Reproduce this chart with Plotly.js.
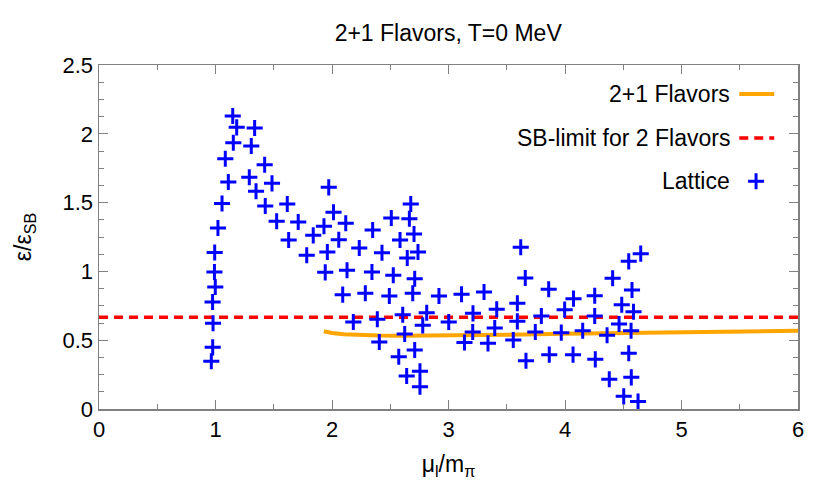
<!DOCTYPE html>
<html>
<head>
<meta charset="utf-8">
<script src="https://cdn.plot.ly/plotly-3.0.1.min.js"></script>
<style>
  body { margin: 0; background: #fff; }
  #myPlot { width: 830px; height: 498px; }
</style>
</head>
<body>
<div id="myPlot"></div>
<script>
// 2+1 flavors model curve
const flavX = [1.93, 2.0, 2.1, 2.2, 2.4, 2.6, 2.8, 3.0, 3.5, 4.0, 4.5, 5.0, 5.5, 6.0];
const flavY = [0.565, 0.552, 0.543, 0.538, 0.534, 0.533, 0.533, 0.535, 0.540, 0.546, 0.552, 0.558, 0.563, 0.568];

// Stefan-Boltzmann limit
const sbX = [0, 6];
const sbY = [0.667, 0.667];

// lattice points
const latX = [0.964, 0.976, 0.979, 0.975, 0.998, 0.991, 0.993, 1.021, 1.056, 1.084,
  1.110, 1.148, 1.182, 1.153, 1.336, 1.307, 1.290, 1.422, 1.348, 1.485,
  1.427, 1.616, 1.525, 1.710, 1.628, 1.783, 1.972, 2.013, 2.118, 1.931,
  1.839, 2.058, 1.960, 1.942, 2.129, 2.092, 2.286, 2.183, 2.349, 2.234,
  2.429, 2.343, 2.526, 2.492, 2.389, 2.406, 2.509, 2.584, 2.676, 2.664,
  2.704, 2.646, 2.738, 2.710, 2.693, 2.607, 2.624, 2.710, 2.573, 2.641,
  2.755, 2.755, 2.813, 2.779, 2.918, 3.002, 3.112, 3.137, 3.210, 3.208,
  3.305, 3.339, 3.414, 3.397, 3.620, 3.659, 3.591, 3.591, 3.556, 3.665,
  3.860, 3.797, 3.745, 3.865, 4.073, 3.997, 3.968, 4.069, 4.255, 4.255,
  4.152, 4.260, 4.409, 4.487, 4.464, 4.361, 4.380, 4.547, 4.650, 4.575,
  4.588, 4.567, 4.547, 4.569, 4.504, 4.627];
const latY = [0.347, 0.448, 0.623, 0.778, 0.887, 0.996, 1.137, 1.315, 1.493, 1.819,
  1.650, 2.129, 2.047, 1.935, 2.042, 1.911, 1.684, 1.775, 1.582, 1.640,
  1.475, 1.490, 1.364, 1.359, 1.228, 1.117, 1.611, 1.430, 1.350, 1.328,
  1.262, 1.230, 1.141, 0.993, 1.008, 0.831, 0.841, 0.632, 1.301, 1.170,
  1.136, 0.996, 0.972, 0.821, 0.652, 0.487, 1.388, 1.228, 1.490, 1.383,
  1.272, 1.097, 1.141, 0.947, 0.841, 0.685, 0.545, 0.429, 0.380, 0.240,
  0.274, 0.162, 0.700, 0.608, 0.821, 0.632, 0.834, 0.483, 0.695, 0.560,
  0.850, 0.477, 0.725, 0.589, 1.175, 0.952, 0.768, 0.637, 0.501, 0.351,
  0.870, 0.676, 0.560, 0.395, 0.802, 0.722, 0.555, 0.395, 0.823, 0.676,
  0.569, 0.361, 0.950, 0.758, 0.618, 0.536, 0.216, 1.073, 1.129, 0.865,
  0.707, 0.569, 0.405, 0.230, 0.092, 0.055];

const legendNames = ['2+1 Flavors', 'SB-limit for 2 Flavors', 'Lattice'];

const fontFam = 'Liberation Sans, Arial, sans-serif';

const traceFlav = {
  x: flavX, y: flavY,
  type: 'scatter', mode: 'lines',
  line: { color: '#ffa500', width: 4 },
  name: legendNames[0]
};

const traceSB = {
  x: sbX, y: sbY,
  type: 'scatter', mode: 'lines',
  line: { color: '#ff0000', width: 3.5, dash: '9px,6px' },
  name: legendNames[1]
};

const traceLat = {
  x: latX, y: latY,
  type: 'scatter', mode: 'markers',
  marker: { symbol: 'cross-thin', size: 11.5, color: '#0000ff', line: { color: '#0000ff', width: 3 } },
  name: legendNames[2]
};

// hand-made key: text on the left, sample on the right
const keyY = [0.916, 0.788, 0.662];
const keyTextX = 0.905;
const keyX0 = 0.916, keyX1 = 0.966, keyCx = 0.94;

const annotations = legendNames.map((t, i) => ({
  text: t, xref: 'paper', yref: 'paper', x: keyTextX, y: keyY[i],
  xanchor: 'right', yanchor: 'middle', showarrow: false,
  font: { family: fontFam, size: 23, color: '#000' }
}));

const cw = 8 / 699, ch = 8 / 344;
const shapes = [
  { type: 'line', xref: 'paper', yref: 'paper', x0: keyX0, x1: keyX1, y0: keyY[0], y1: keyY[0],
    line: { color: '#ffa500', width: 4 } },
  { type: 'line', xref: 'paper', yref: 'paper', x0: keyX0, x1: keyX1, y0: keyY[1], y1: keyY[1],
    line: { color: '#ff0000', width: 3.5, dash: '9px,6px' } },
  { type: 'line', xref: 'paper', yref: 'paper', x0: keyCx - cw, x1: keyCx + cw, y0: keyY[2], y1: keyY[2],
    line: { color: '#0000ff', width: 3 } },
  { type: 'line', xref: 'paper', yref: 'paper', x0: keyCx, x1: keyCx, y0: keyY[2] - ch, y1: keyY[2] + ch,
    line: { color: '#0000ff', width: 3 } }
];

const layout = {
  width: 830,
  height: 498,
  margin: { l: 99, r: 32, t: 65, b: 89 },
  paper_bgcolor: '#fff',
  plot_bgcolor: '#fff',
  showlegend: false,
  font: { family: fontFam, size: 22, color: '#000' },
  title: {
    text: '2+1 Flavors, T=0 MeV',
    x: 0.54, xanchor: 'center',
    y: 0.934, yanchor: 'middle',
    font: { family: fontFam, size: 23, color: '#000' }
  },
  xaxis: {
    range: [0, 6],
    dtick: 1,
    showgrid: false, zeroline: false,
    showline: true, linecolor: '#808080', linewidth: 1.5, mirror: 'allticks',
    ticks: 'inside', ticklen: 9, tickcolor: '#808080', tickwidth: 1,
    minor: { dtick: 0.5, ticks: 'inside', ticklen: 5, tickcolor: '#808080' },
    tickfont: { family: fontFam, size: 22, color: '#000' },
    title: { text: 'μ<sub>l</sub>/m<sub>π</sub>', standoff: 15,
      font: { family: fontFam, size: 23, color: '#000' } }
  },
  yaxis: {
    range: [0, 2.5],
    dtick: 0.5,
    showgrid: false, zeroline: false,
    showline: true, linecolor: '#808080', linewidth: 1.5, mirror: 'allticks',
    ticks: 'inside', ticklen: 9, tickcolor: '#808080', tickwidth: 1,
    minor: { dtick: 0.125, ticks: 'inside', ticklen: 5, tickcolor: '#808080' },
    tickfont: { family: fontFam, size: 22, color: '#000' },
    title: { text: 'ε/ε<sub>SB</sub>', standoff: 24,
      font: { family: fontFam, size: 23, color: '#000' } }
  },
  annotations: annotations,
  shapes: shapes
};

Plotly.newPlot('myPlot', [traceFlav, traceSB, traceLat], layout, { displayModeBar: false, staticPlot: true });
</script>
</body>
</html>
